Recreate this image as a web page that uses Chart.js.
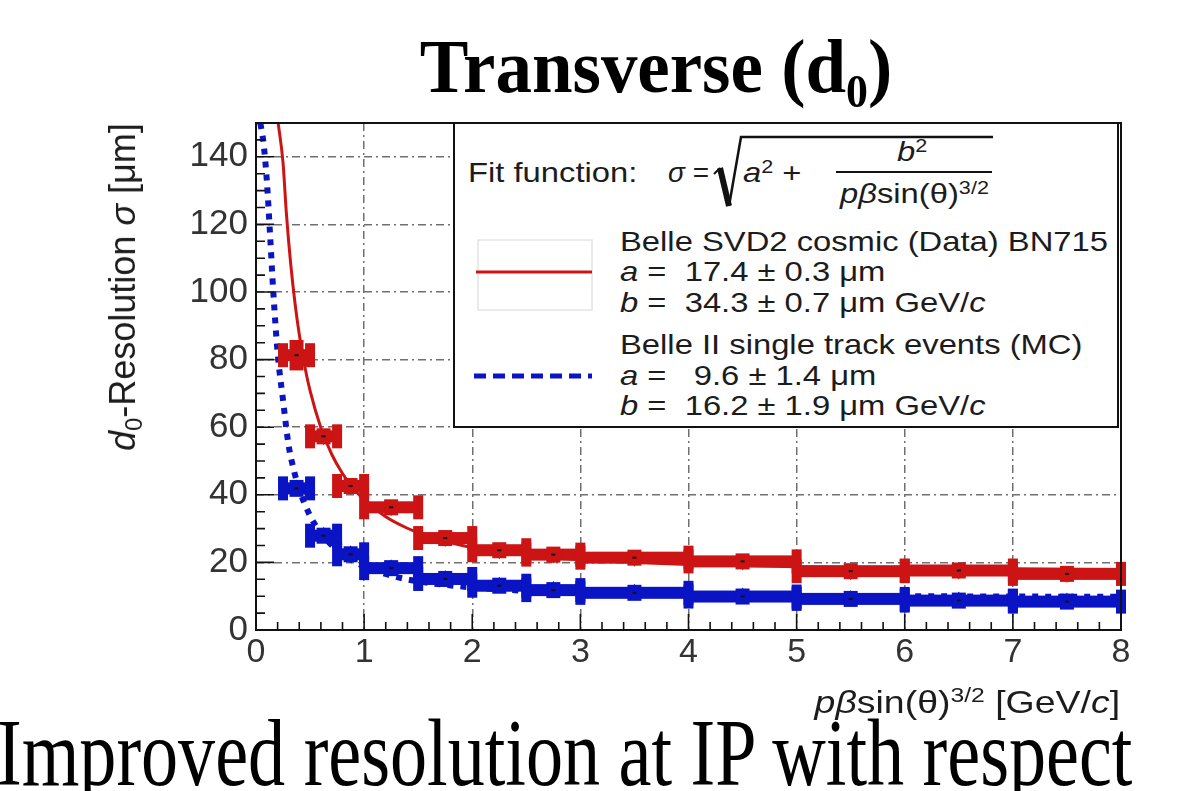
<!DOCTYPE html>
<html><head><meta charset="utf-8">
<script src="https://cdn.jsdelivr.net/npm/chart.js@4.4.0/dist/chart.umd.min.js"></script>
<style>
html,body{margin:0;padding:0;background:#fff;}
#wrap{position:relative;width:1197px;height:791px;overflow:hidden;background:#fff;}
#c{position:absolute;left:0;top:0;}
.t{position:absolute;white-space:nowrap;font-family:"Liberation Sans",Arial,sans-serif;color:#1c1c1c;}
.sx{transform-origin:0 50%;transform:scaleX(1.17);}
.lg{font-size:28px;line-height:32px;}
.sup{font-size:0.66em;position:relative;top:-0.5em;}
.sub{font-size:0.66em;position:relative;top:0.3em;}
svg.ov{position:absolute;left:0;top:0;pointer-events:none;}
</style></head>
<body><div id="wrap">
<canvas id="c" width="1197" height="791"></canvas>

<div id="title" style="position:absolute;left:656px;top:28px;font-family:'Liberation Serif','Times New Roman',serif;font-weight:bold;font-size:76px;line-height:76px;white-space:nowrap;color:#000;transform:translateX(-50%) scaleX(0.96);">Transverse (d<span style="font-size:0.6em;position:relative;top:0.32em;">0</span>)</div>

<div id="legendBox" style="position:absolute;left:453px;top:122px;width:666px;height:306px;box-sizing:border-box;border:2px solid #111;background:#fff;"></div>
<svg class="ov" width="1197" height="791">
  <path d="M714 174 L720 168" stroke="#111" stroke-width="2" fill="none"/>
  <path d="M720 168 L729 206" stroke="#111" stroke-width="6" fill="none"/>
  <path d="M729 206 L741 137 L993 137" stroke="#111" stroke-width="2.5" fill="none"/>
  <line x1="836" y1="172" x2="992" y2="172" stroke="#111" stroke-width="2"/>
  <rect x="478" y="240" width="114" height="70" stroke="#e4e4e4" stroke-width="1.5" fill="none"/>
  <line x1="476" y1="272" x2="592" y2="272" stroke="#cc1414" stroke-width="3"/>
  <line x1="474" y1="376" x2="592" y2="376" stroke="#0a14c4" stroke-width="5" stroke-dasharray="12 7"/>
</svg>
<div class="t sx lg" style="left:468px;top:157px;">Fit function:</div>
<div class="t lg" style="left:668px;top:157px;"><i>σ</i> =</div>
<div class="t sx lg" style="left:743px;top:157px;"><i>a</i><span class="sup">2</span> +</div>
<div class="t sx lg" style="left:897px;top:136px;"><i>b</i><span class="sup">2</span></div>
<div class="t sx lg" style="left:840px;top:178px;"><i>p</i><i>β</i>sin(θ)<span class="sup">3/2</span></div>
<div class="t sx lg" style="left:620px;top:226px;">Belle SVD2 cosmic (Data) BN715</div>
<div class="t sx lg" style="left:620px;top:256px;"><i>a</i> = &nbsp;17.4 ± 0.3 μm</div>
<div class="t sx lg" style="left:620px;top:287px;"><i>b</i> = &nbsp;34.3 ± 0.7 μm GeV/<i>c</i></div>
<div class="t sx lg" style="left:620px;top:329px;">Belle II single track events (MC)</div>
<div class="t sx lg" style="left:620px;top:360px;"><i>a</i> = &nbsp;&nbsp;9.6 ± 1.4 μm</div>
<div class="t sx lg" style="left:620px;top:390px;"><i>b</i> = &nbsp;16.2 ± 1.9 μm GeV/<i>c</i></div>

<div class="t" id="xtitle" style="right:77px;top:682px;font-size:32px;line-height:40px;transform-origin:100% 50%;transform:scaleX(1.17);"><i>p</i><i>β</i>sin(θ)<span class="sup">3/2</span> [GeV/<i>c</i>]</div>
<div class="t" id="ytitle" style="left:125px;top:287px;font-size:36px;line-height:42px;transform:translate(-50%,-50%) rotate(-90deg);"><i>d</i><span class="sub">0</span>-Resolution <i>σ</i> [μm]</div>

<div id="caption" style="position:absolute;left:-3px;top:705px;font-family:'Liberation Serif','Times New Roman',serif;font-size:96px;line-height:96px;white-space:nowrap;color:#000;transform-origin:0 50%;transform:scaleX(0.772);">Improved resolution at IP with respect</div>
</div>
<script>
// ---- data ----
const xTickLabels = ['0','1','2','3','4','5','6','7','8'];
const yTickLabels = ['0','20','40','60','80','100','120','140'];
const binLow  = [0.25, 0.5, 0.75, 1.0, 1.5, 2.0, 2.5, 3, 4, 5, 6, 7];
const binHigh = [0.5, 0.75, 1.0, 1.5, 2.0, 2.5, 3.0, 4, 5, 6, 7, 8];
const redValues  = [81.3, 57.3, 42.6, 36.3, 27.2, 23.6, 22.3, 21.4, 20.3, 17.4, 17.6, 16.6];
const redErrors  = [4.5, 2.0, 1.5, 1.2, 1.0, 1.0, 0.8, 0.8, 0.8, 0.8, 0.8, 0.8];
const blueValues = [41.9, 27.9, 22.4, 18.3, 15.1, 13.1, 11.8, 11.0, 9.9, 9.2, 8.7, 8.4];
const blueErrors = [2.5, 1.5, 1.2, 1.0, 1.0, 0.8, 0.8, 0.8, 0.8, 0.8, 0.8, 0.8];
const redFitX = [0.205,0.25,0.28,0.32,0.36,0.4,0.45,0.5,0.6,0.7,0.8,0.9,1.0,1.2,1.4,1.6,1.8,2.0,2.5,3,3.5,4,5,6,7,8];
const redFitY = [150,138.3,123.7,108.6,96.9,87.5,78.2,70.8,59.8,52.0,46.3,41.9,38.5,33.5,30.1,27.6,25.8,24.4,22.2,20.8,20.0,19.4,18.7,18.3,18.1,17.9];
const blueFitX = [0.04,0.07,0.1,0.13,0.16,0.2,0.25,0.3,0.35,0.4,0.5,0.6,0.7,0.8,0.9,1.0,1.25,1.5,2,2.5,3,4,5,6,7,8];
const blueFitY = [150,144,133,117,100,82,68,55,47.3,41.6,33.8,28.7,25.1,22.4,20.4,18.8,16.1,14.4,12.6,11.6,11.0,10.4,10.1,10.0,9.9,9.8];

const RED = '#cc1414';
const BLUE = '#0a14c4';
const FONT = '"Liberation Sans", Arial, sans-serif';

const centers = binLow.map((lo, i) => (lo + binHigh[i]) / 2);
const redPts = centers.map((x, i) => ({x: x, y: redValues[i]}));
const bluePts = centers.map((x, i) => ({x: x, y: blueValues[i]}));
const redFit = redFitX.map((x, i) => ({x: x, y: redFitY[i]}));
const blueFit = blueFitX.map((x, i) => ({x: x, y: blueFitY[i]}));

function drawBins(ctx, xs, ys, values, errs, color) {
  ctx.fillStyle = color;
  for (let i = 0; i < values.length; i++) {
    const x0 = xs.getPixelForValue(binLow[i]);
    const x1 = xs.getPixelForValue(binHigh[i]);
    const xc = xs.getPixelForValue(centers[i]);
    const py = ys.getPixelForValue(values[i]);
    ctx.fillRect(x0, py - 6, x1 - x0, 12);
    ctx.fillRect(x0 - 5, py - 12, 10, 24);
    ctx.fillRect(x1 - 5, py - 12, 10, 24);
    const et = Math.min(ys.getPixelForValue(values[i] + errs[i]), py - 8);
    const eb = Math.max(ys.getPixelForValue(values[i] - errs[i]), py + 8);
    ctx.fillRect(xc - 7, et, 14, eb - et);
  }
}

const binPlugin = {
  id: 'bins',
  afterDatasetDraw(chart, args) {
    if (args.index !== 2) return;
    const {ctx, scales: {x, y}} = chart;
    ctx.save();
    drawBins(ctx, x, y, blueValues, blueErrors, BLUE);
    drawBins(ctx, x, y, redValues, redErrors, RED);
    ctx.restore();
  }
};

const framePlugin = {
  id: 'frame',
  afterDatasetsDraw(chart) {
    const {ctx, chartArea: a, scales: {x, y}} = chart;
    ctx.save();
    ctx.fillStyle = '#111';
    for (let i = 0; i < centers.length; i++) {
      const xc = x.getPixelForValue(centers[i]);
      ctx.fillRect(xc - 2, y.getPixelForValue(redValues[i]) - 1, 4, 2);
      ctx.fillRect(xc - 2, y.getPixelForValue(blueValues[i]) - 1, 4, 2);
    }
    ctx.strokeStyle = '#111';
    ctx.lineWidth = 1.6;
    ctx.beginPath();
    for (let k = 0; k <= 30; k++) {
      const v = k * 5;
      const py = y.getPixelForValue(v);
      const len = (v % 20 === 0) ? 18 : 9;
      ctx.moveTo(a.left, py); ctx.lineTo(a.left + len, py);
    }
    for (let k = 0; k <= 40; k++) {
      const v = k * 0.2;
      const px = x.getPixelForValue(v);
      const len = (k % 5 === 0) ? 16 : 8;
      ctx.moveTo(px, a.bottom); ctx.lineTo(px, a.bottom - len);
    }
    ctx.stroke();
    ctx.lineWidth = 2;
    ctx.strokeRect(a.left, a.top, a.right - a.left, a.bottom - a.top);
    ctx.restore();
  }
};

new Chart(document.getElementById('c'), {
  type: 'scatter',
  data: {
    datasets: [
      {label: 'Belle SVD2 cosmic (Data) BN715', data: redPts, pointStyle: 'triangle', rotation: 180, pointRadius: 9,
       backgroundColor: RED, borderColor: RED, borderWidth: 0, order: 0},
      {label: 'Belle II single track events (MC)', data: bluePts, pointStyle: 'triangle', pointRadius: 9,
       backgroundColor: BLUE, borderColor: BLUE, borderWidth: 0, order: 1},
      {label: 'Fit (Data)', data: redFit, showLine: true, pointRadius: 0, borderColor: RED, borderWidth: 3,
       cubicInterpolationMode: 'monotone', order: 2},
      {label: 'Fit (MC)', data: blueFit, showLine: true, pointRadius: 0, borderColor: BLUE, borderWidth: 6,
       borderDash: [6, 7], cubicInterpolationMode: 'monotone', order: 3}
    ]
  },
  options: {
    responsive: false,
    animation: false,
    events: [],
    layout: {padding: {left: 0, top: 123, right: 76, bottom: 111}},
    plugins: {legend: {display: false}, tooltip: {enabled: false}, title: {display: false}},
    scales: {
      x: {
        type: 'linear', min: 0, max: 8,
        afterFit(s) { s.height = 50; },
        afterBuildTicks(s) { s.ticks = xTickLabels.map(l => ({value: Number(l)})); },
        ticks: {font: {family: FONT, size: 34}, color: '#333', padding: 2, maxRotation: 0,
                callback: (v) => xTickLabels[Math.round(v)]},
        grid: {drawTicks: false, lineWidth: 1.5,
               color: (c) => (c.tick && c.tick.value > 0 && c.tick.value < 8) ? '#707070' : 'rgba(0,0,0,0)'},
        border: {display: false, dash: [8, 4, 2, 4]}
      },
      y: {
        type: 'linear', min: 0, max: 150,
        afterFit(s) { s.width = 256; },
        afterBuildTicks(s) { s.ticks = yTickLabels.map(l => ({value: Number(l)})); },
        ticks: {font: {family: FONT, size: 35}, color: '#333', padding: 8,
                callback: (v) => yTickLabels[Math.round(v / 20)]},
        grid: {drawTicks: false, lineWidth: 1.5,
               color: (c) => (c.tick && c.tick.value > 0 && c.tick.value < 150) ? '#707070' : 'rgba(0,0,0,0)'},
        border: {display: false, dash: [8, 4, 2, 4]}
      }
    }
  },
  plugins: [binPlugin, framePlugin]
});
</script>
</body></html>
